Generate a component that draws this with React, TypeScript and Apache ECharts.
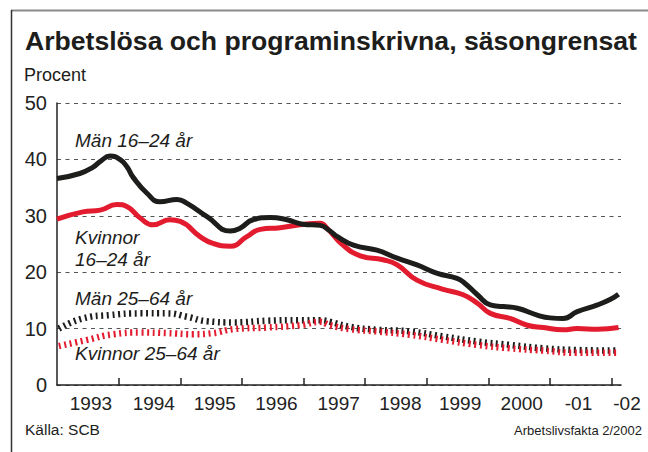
import React, { useEffect, useRef } from "react";
import * as echarts from "echarts";

// ---- Data ----
const menYoungX = [1993.0, 1993.37, 1993.58, 1993.71, 1993.86, 1994.02, 1994.14, 1994.23, 1994.46, 1994.67, 1994.95, 1995.11, 1995.44, 1995.81, 1995.97, 1996.18, 1996.46, 1996.73, 1996.99, 1997.27, 1997.43, 1997.55, 1997.81, 1998.19, 1998.52, 1998.84, 1999.17, 1999.49, 1999.62, 1999.82, 2000.03, 2000.24, 2000.47, 2000.79, 2001.0, 2001.21, 2001.44, 2001.77, 2001.98, 2002.11];
const menYoungY = [36.6, 37.5, 38.6, 39.7, 40.6, 40.0, 38.6, 36.9, 34.0, 32.5, 32.9, 32.2, 29.8, 27.3, 27.8, 29.3, 29.7, 29.3, 28.5, 28.3, 27.3, 26.3, 24.8, 23.9, 22.5, 21.3, 19.8, 18.9, 18.0, 16.0, 14.2, 13.9, 13.6, 12.4, 11.9, 11.8, 13.0, 14.2, 15.2, 16.1];

const womenYoungX = [1993.0, 1993.42, 1993.7, 1993.97, 1994.14, 1994.35, 1994.56, 1994.83, 1995.0, 1995.32, 1995.53, 1995.81, 1996.08, 1996.3, 1996.62, 1996.94, 1997.27, 1997.38, 1997.64, 1997.92, 1998.29, 1998.52, 1998.84, 1999.25, 1999.59, 1999.82, 2000.03, 2000.35, 2000.63, 2000.89, 2001.21, 2001.44, 2001.77, 2002.11];
const womenYoungY = [29.4, 30.7, 31.0, 32.0, 31.6, 29.6, 28.4, 29.3, 29.0, 26.3, 25.1, 24.6, 26.3, 27.6, 27.9, 28.4, 28.7, 27.8, 24.8, 22.9, 22.2, 21.3, 18.6, 17.0, 16.0, 14.5, 12.7, 11.8, 10.6, 10.2, 9.8, 10.0, 9.9, 10.2];

const menAdultX = [1993.03, 1993.42, 1993.86, 1994.35, 1994.79, 1995.11, 1995.44, 1995.86, 1996.41, 1996.94, 1997.27, 1997.43, 1997.76, 1998.19, 1998.73, 1999.27, 1999.82, 2000.35, 2000.89, 2001.44, 2002.09];
const menAdultY = [10.0, 11.8, 12.4, 12.7, 12.7, 12.1, 11.3, 11.1, 11.4, 11.5, 11.5, 11.2, 10.3, 9.8, 9.5, 8.6, 7.7, 7.1, 6.5, 6.2, 6.1];

const womenAdultX = [1993.03, 1993.49, 1993.91, 1994.35, 1994.79, 1995.21, 1995.53, 1995.86, 1996.41, 1996.94, 1997.27, 1997.43, 1997.76, 1998.19, 1998.73, 1999.27, 1999.82, 2000.35, 2000.89, 2001.44, 2002.09];
const womenAdultY = [6.9, 8.0, 9.0, 9.3, 9.2, 9.0, 9.2, 9.9, 10.2, 10.6, 11.2, 10.6, 9.9, 9.5, 8.9, 8.0, 7.1, 6.5, 6.1, 5.7, 5.7];

const xTickValues = [1994, 1995, 1996, 1997, 1998, 1999, 2000, 2001, 2002];
const xLabelValues = [1993.55, 1994.57, 1995.56, 1996.56, 1997.57, 1998.57, 1999.54, 2000.54, 2001.46, 2002.15];
const xLabelTexts = ["1993", "1994", "1995", "1996", "1997", "1998", "1999", "2000", "-01", "-02"];

const seriesNames = ["Män 16–24 år", "Kvinnor 16–24 år", "Män 25–64 år", "Kvinnor 25–64 år"];

const BLACK = "#1d1d1b";
const RED = "#e31b2f";
const FONT = "'Liberation Sans', Arial, Helvetica, sans-serif";

function pairs(xs: number[], ys: number[]) {
  return xs.map((x, i) => [x, ys[i]]);
}

export default function App() {
  const ref = useRef<HTMLDivElement>(null);
  useEffect(() => {
    if (!ref.current) return;
    const chart = echarts.init(ref.current, null, { renderer: "svg" });
    chart.setOption({
      animation: false,
      backgroundColor: "#ffffff",
      textStyle: { fontFamily: FONT },
      grid: { left: 57, top: 103, right: 27, bottom: 67, containLabel: false },
      xAxis: {
        type: "value",
        min: 1993,
        max: 2002.15,
        axisLine: { show: true, onZero: false, lineStyle: { color: "#222", width: 1.5 } },
        axisTick: {
          show: true,
          inside: true,
          length: 7,
          customValues: xTickValues,
          lineStyle: { color: "#222", width: 1.5 },
        },
        axisLabel: {
          customValues: xLabelValues,
          fontSize: 19,
          color: "#222",
          margin: 9,
          fontFamily: FONT,
          formatter: (v: number) => {
            let best = 0;
            xLabelValues.forEach((lv, i) => {
              if (Math.abs(lv - v) < Math.abs(xLabelValues[best] - v)) best = i;
            });
            const t = xLabelTexts[best];
            return best === xLabelTexts.length - 1 ? "{r|" + t + "}" : t;
          },
          rich: { r: { fontSize: 19, color: "#222", padding: [0, 0, 0, 12], fontFamily: FONT } },
        },
        splitLine: { show: false },
      },
      yAxis: {
        type: "value",
        min: 0,
        max: 50,
        interval: 10,
        axisLine: { show: true, lineStyle: { color: "#222", width: 1.5 } },
        axisTick: { show: false },
        axisLabel: {
          fontSize: 20,
          color: "#222",
          margin: 10,
          padding: [0, 0, 9, 0],
          fontFamily: FONT,
        },
        splitLine: {
          show: true,
          lineStyle: { color: "#555", type: [4, 4.5], width: 1 },
        },
      },
      series: [
        {
          name: seriesNames[2],
          type: "line",
          smooth: 0.5,
          symbol: "none",
          data: pairs(menAdultX, menAdultY),
          lineStyle: { color: BLACK, width: 6.5, type: [2, 3.6], cap: "butt" },
        },
        {
          name: seriesNames[3],
          type: "line",
          smooth: 0.5,
          symbol: "none",
          data: pairs(womenAdultX, womenAdultY),
          lineStyle: { color: RED, width: 6.5, type: [2, 3.6], cap: "butt" },
        },
        {
          name: seriesNames[1],
          type: "line",
          smooth: 0.5,
          symbol: "none",
          data: pairs(womenYoungX, womenYoungY),
          lineStyle: { color: RED, width: 5 },
        },
        {
          name: seriesNames[0],
          type: "line",
          smooth: 0.5,
          symbol: "none",
          data: pairs(menYoungX, menYoungY),
          lineStyle: { color: BLACK, width: 5 },
        },
      ],
      graphic: [
        { type: "line", shape: { x1: 11, y1: 10.5, x2: 648, y2: 10.5 }, style: { stroke: "#8a8a8a", lineWidth: 2 } },
        { type: "line", shape: { x1: 11.5, y1: 10, x2: 11.5, y2: 452 }, style: { stroke: "#333", lineWidth: 1.5 } },
        {
          type: "text",
          left: 25,
          top: 27,
          style: { text: "Arbetslösa och programinskrivna, säsongrensat", font: "bold 26.6px " + FONT, fill: "#1d1d1b" },
        },
        { type: "text", left: 24, top: 66, style: { text: "Procent", font: "18px " + FONT, fill: "#1d1d1b" } },
        { type: "text", left: 75, top: 131, style: { text: seriesNames[0], font: "italic 19px " + FONT, fill: "#1d1d1b" } },
        { type: "text", left: 75, top: 226, style: { text: "Kvinnor\n16–24 år", font: "italic 19px " + FONT, fill: "#1d1d1b", lineHeight: 22 } },
        { type: "text", left: 75, top: 289, style: { text: seriesNames[2], font: "italic 19px " + FONT, fill: "#1d1d1b" } },
        { type: "text", left: 75, top: 344, style: { text: seriesNames[3], font: "italic 19px " + FONT, fill: "#1d1d1b" } },
        { type: "text", left: 25, top: 421, style: { text: "Källa: SCB", font: "15.5px " + FONT, fill: "#1d1d1b" } },
        { type: "text", right: 6, top: 424, style: { text: "Arbetslivsfakta 2/2002", font: "13px " + FONT, fill: "#1d1d1b" } },
      ],
    });
    return () => chart.dispose();
  }, []);
  return <div ref={ref} style={{ width: 648, height: 452, position: "absolute", left: 0, top: 0 }} />;
}
